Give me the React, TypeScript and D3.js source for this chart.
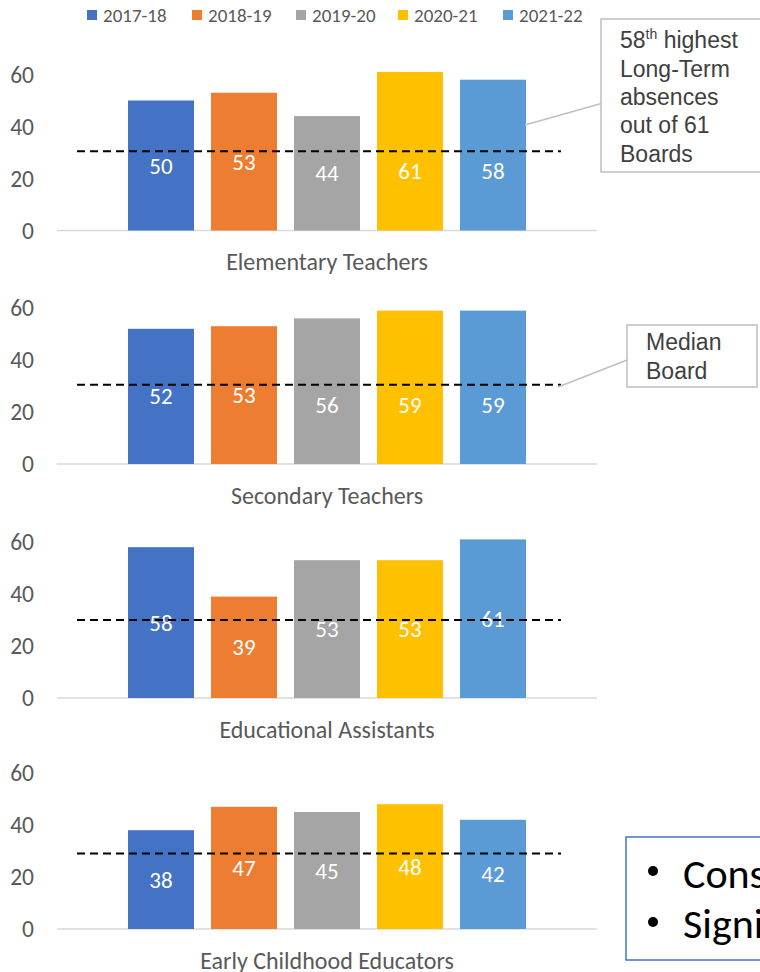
import React from 'react';
import * as d3 from 'd3';

// School years shown as the five bars in every panel
const SERIES = ['2017-18', '2018-19', '2019-20', '2020-21', '2021-22'];
const SERIES_COLORS = ['#4472C4', '#ED7D31', '#A5A5A5', '#FFC000', '#5B9BD5'];

// Employee groups, one panel each
const GROUPS = [
  'Elementary Teachers',
  'Secondary Teachers',
  'Educational Assistants',
  'Early Childhood Educators',
];

// Rank of the board for each group and year
const elementaryTeachers = [50, 53, 44, 61, 58];
const secondaryTeachers = [52, 53, 56, 59, 59];
const educationalAssistants = [58, 39, 53, 53, 61];
const earlyChildhoodEducators = [38, 47, 45, 48, 42];
const GROUP_VALUES = [elementaryTeachers, secondaryTeachers, educationalAssistants, earlyChildhoodEducators];

// Median board reference line for each group
const MEDIANS = [30.5, 30.5, 30, 29];

const Y_TICKS = [0, 20, 40, 60];

const CALIBRI = "Calibri, Carlito, 'Open Sans', sans-serif";
const ARIAL = "Arial, 'Liberation Sans', sans-serif";

export default function App() {
  const width = 760;
  const height = 972;
  const baselines = [230.5, 464, 698, 929];
  const plotHeight = 156;
  const axisLeft = 57;
  const axisRight = 597;

  const x = d3.scaleBand<string>().domain(SERIES).range([128, 526]).paddingInner(0.205).paddingOuter(0);
  const legendX = d3.scaleOrdinal<string, number>().domain(SERIES).range([87, 192, 296, 398, 503]);

  return (
    <svg width={width} height={height} style={{ position: 'absolute', left: 0, top: 0, background: '#fff' }}>
      {/* legend */}
      {SERIES.map((s, i) => (
        <g key={s}>
          <rect x={legendX(s)} y={10} width={10} height={10} fill={SERIES_COLORS[i]} />
          <text x={legendX(s) + 16} y={15} dominantBaseline="central" fontFamily={CALIBRI} fontSize={19} fill="#595959">
            {s}
          </text>
        </g>
      ))}

      {GROUPS.map((group, gi) => {
        const base = baselines[gi];
        const y = d3.scaleLinear().domain([0, 60]).range([base, base - plotHeight]);
        const values = GROUP_VALUES[gi];
        const medianY = y(MEDIANS[gi]);
        const dodge = gi < 2;
        return (
          <g key={group}>
            {Y_TICKS.map((t) => (
              <text key={t} x={34} y={y(t)} textAnchor="end" dominantBaseline="central" fontFamily={CALIBRI} fontSize={23.5} fill="#595959">
                {t}
              </text>
            ))}
            <line x1={axisLeft} x2={axisRight} y1={base} y2={base} stroke="#D9D9D9" strokeWidth={1.5} />
            {values.map((v, i) => {
              const bx = x(SERIES[i])!;
              const top = y(v);
              let ly = (top + base) / 2;
              if (dodge && Math.abs(ly - medianY) < 10) ly = medianY + 20;
              return (
                <g key={SERIES[i]}>
                  <rect x={bx} y={top} width={x.bandwidth()} height={base - top} fill={SERIES_COLORS[i]} />
                  <text x={bx + x.bandwidth() / 2} y={ly} textAnchor="middle" dominantBaseline="central" fontFamily={CALIBRI} fontSize={23} fill="#fff">
                    {v}
                  </text>
                </g>
              );
            })}
            <line x1={77} x2={561} y1={medianY} y2={medianY} stroke="#000" strokeWidth={2} strokeDasharray="8,5" />
            <text x={327} y={base + 31} textAnchor="middle" dominantBaseline="central" fontFamily={CALIBRI} fontSize={24} fill="#595959">
              {group}
            </text>
          </g>
        );
      })}

      {/* callout: board rank */}
      <line x1={525} y1={125} x2={603} y2={103} stroke="#BFBFBF" strokeWidth={1.5} />
      <rect x={601} y={19} width={170} height={153} fill="#fff" stroke="#BFBFBF" strokeWidth={1.5} />
      <text fontFamily={ARIAL} fontSize={23} fill="#404040">
        <tspan x={620} y={48}>58</tspan>
        <tspan fontSize={14} dy={-9}>th</tspan>
        <tspan dy={9}> highest</tspan>
        <tspan x={620} y={77}>Long-Term</tspan>
        <tspan x={620} y={105}>absences</tspan>
        <tspan x={620} y={133}>out of 61</tspan>
        <tspan x={620} y={162}>Boards</tspan>
      </text>

      {/* callout: median line */}
      <line x1={558} y1={387} x2={627} y2={360} stroke="#BFBFBF" strokeWidth={1.5} />
      <rect x={627} y={325} width={130} height={62} fill="#fff" stroke="#BFBFBF" strokeWidth={1.5} />
      <text fontFamily={ARIAL} fontSize={23} fill="#404040">
        <tspan x={646} y={350}>Median</tspan>
        <tspan x={646} y={379}>Board</tspan>
      </text>

      {/* summary notes */}
      <rect x={626} y={837} width={160} height={123} fill="#fff" stroke="#4472C4" strokeWidth={1.5} />
      <circle cx={653} cy={871} r={5} fill="#000" />
      <circle cx={653} cy={922} r={5} fill="#000" />
      <text fontFamily={CALIBRI} fontSize={42} fill="#000">
        <tspan x={683} y={888}>Consistently above the median</tspan>
        <tspan x={683} y={938}>Significant increase</tspan>
      </text>
    </svg>
  );
}
